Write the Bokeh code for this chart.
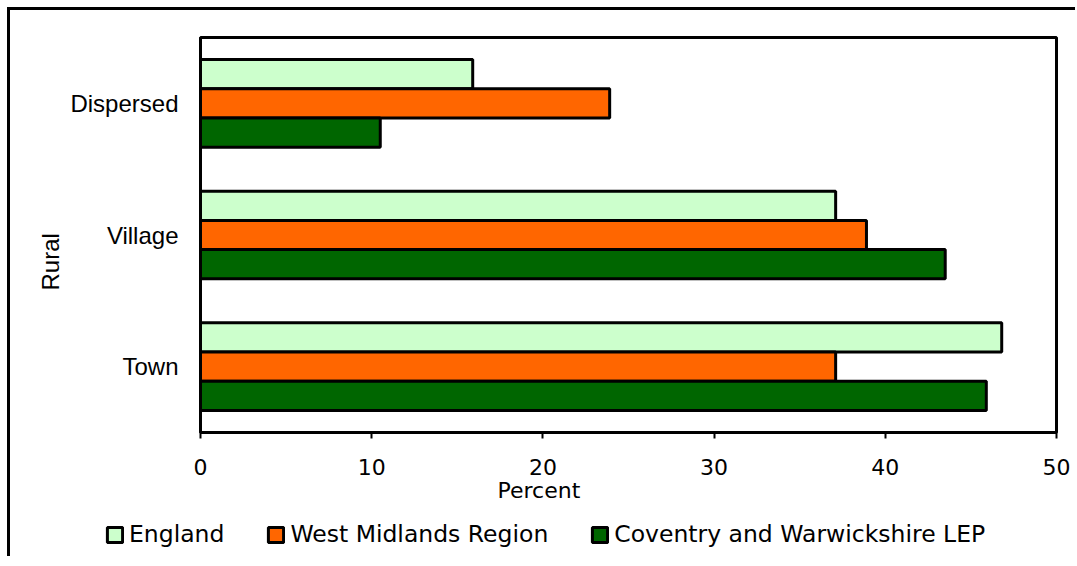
from bokeh.plotting import figure
from bokeh.layouts import column
from bokeh.models import (Range1d, FactorRange, Legend, LegendItem, Title,
                          FixedTicker, ColumnDataSource)
from bokeh.transform import dodge
from bokeh.embed import file_html
from bokeh.resources import INLINE

# ---- data ----
categories = ["Town", "Village", "Dispersed"]          # bottom -> top
england = [46.8, 37.1, 15.9]
west_midlands = [37.1, 38.9, 23.9]
coventry = [45.9, 43.5, 10.5]
series_names = ["England", "West Midlands Region", "Coventry and Warwickshire LEP"]
series_colors = ["#CCFFCC", "#FF6600", "#006600"]
x_ticks = [0, 10, 20, 30, 40, 50]

source = ColumnDataSource(dict(cat=categories, eng=england, wm=west_midlands, cov=coventry))
cols = ["eng", "wm", "cov"]
offsets = [0.222, 0.0, -0.222]

# ---------------- main chart ----------------
p = figure(frame_width=856, frame_height=395,
           y_range=FactorRange(factors=categories), x_range=Range1d(0, 50),
           output_backend="svg", toolbar_location=None,
           min_border_left=190, min_border_right=19,
           min_border_top=27, min_border_bottom=84)
p.background_fill_color = "white"
p.border_fill_color = "white"
p.outline_line_color = "black"
p.outline_line_width = 3
p.xgrid.visible = False
p.ygrid.visible = False

renderers = []
for col, off, color in zip(cols, offsets, series_colors):
    r = p.hbar(y=dodge("cat", off, range=p.y_range), left=0, right=col,
               height=0.222, source=source, fill_color=color,
               line_color="black", line_width=3)
    renderers.append(r)

p.xaxis.ticker = FixedTicker(ticks=x_ticks)
p.xaxis.major_label_text_font = "DejaVu Sans"
p.xaxis.major_label_text_font_size = "22px"
p.xaxis.major_label_text_color = "black"
p.xaxis.major_tick_out = 6
p.xaxis.major_tick_in = 0
p.xaxis.major_tick_line_width = 2
p.xaxis.minor_tick_line_color = None
p.xaxis.axis_line_width = 3
p.xaxis.major_label_standoff = 20

p.yaxis.major_tick_line_color = None
p.yaxis.major_tick_out = 0
p.yaxis.major_tick_in = 0
p.yaxis.minor_tick_line_color = None
p.yaxis.major_label_standoff = 22
p.yaxis.major_label_text_font = "Liberation Sans"
p.yaxis.major_label_text_font_size = "24px"
p.yaxis.major_label_text_color = "black"
p.yaxis.axis_line_width = 3

p.add_layout(Title(text="Percent", align="left", offset=297, standoff=-3,
                   text_font="DejaVu Sans", text_font_size="22px",
                   text_font_style="normal", text_color="black"), "below")
p.add_layout(Title(text="Rural", align="left", offset=142, standoff=7,
                   text_font="Liberation Sans", text_font_size="24px",
                   text_font_style="normal", text_color="black"), "left")

# ---------------- legend strip ----------------
lg = figure(width=1065, height=40, x_range=Range1d(-2, -1),
            y_range=FactorRange(factors=categories),
            x_axis_location=None, y_axis_location=None,
            output_backend="svg", toolbar_location=None,
            min_border=0, min_border_left=0, min_border_right=0,
            min_border_top=0, min_border_bottom=0)
lg.outline_line_color = None
lg.background_fill_color = "white"
lg.border_fill_color = "white"
lg.grid.visible = False
leg_renderers = []
for col, off, color in zip(cols, offsets, series_colors):
    r = lg.hbar(y=dodge("cat", off, range=lg.y_range), left=0, right=col,
                height=0.222, source=source, fill_color=color,
                line_color="black", line_width=3)
    r.visible = False          # only used to style the legend swatches
    leg_renderers.append(r)

# keep the legend strip's frame independent of the chart's frame
for fig in (p, lg):
    if "frame_align" in fig.properties():
        fig.frame_align = False

legend = Legend(items=[LegendItem(label=n, renderers=[r]) for n, r in zip(series_names, leg_renderers)],
                orientation="horizontal", location=(95, 8),
                glyph_width=19, glyph_height=19, label_standoff=5, spacing=42,
                label_height=19, padding=0, margin=0,
                border_line_alpha=0, background_fill_alpha=0,
                inactive_fill_alpha=0, click_policy="none",
                label_text_font="DejaVu Sans", label_text_font_size="23.5px",
                label_text_color="black")
lg.add_layout(legend, "center")

layout = column(p, lg, spacing=0)
layout.styles = {"margin-left": "7px", "margin-top": "7px",
                 "border-left": "3px solid black", "border-top": "3px solid black"}

open("out.html", "w").write(file_html(layout, INLINE))
